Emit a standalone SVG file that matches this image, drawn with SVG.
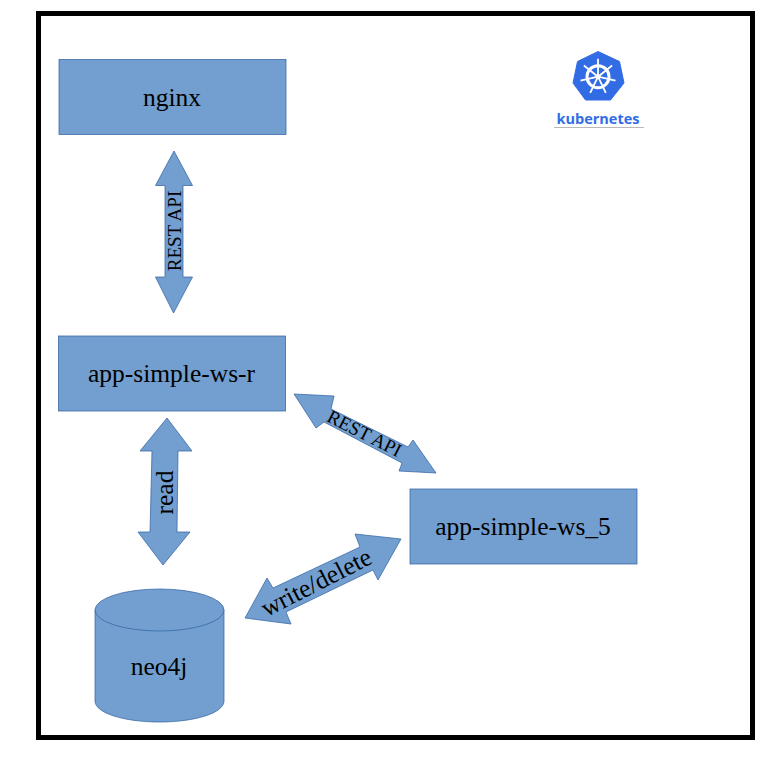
<svg xmlns="http://www.w3.org/2000/svg" width="781" height="757" viewBox="0 0 781 757">
<style>
.s{fill:#729fcf;stroke:#3465a4;stroke-width:.75}
.t{font-family:"Liberation Serif",serif;font-size:25.500px;fill:#000;text-anchor:middle}
.l{font-family:"Liberation Serif",serif;fill:#000;text-anchor:middle}
</style>
<rect width="781" height="757" fill="#fff"/>
<rect id="frame" x="38.500" y="13.500" width="714" height="724" fill="none" stroke="#000" stroke-width="5"/>
<g id="connectors">
<g id="conn-nginx-r"><path class="s" d="M174 151L192.500 185.500H183V277H192.500L173.500 313L155.500 277H165V185.500H155.500Z"/><text class="l" font-size="19" transform="translate(180.500,231) rotate(-90)">REST API</text></g>
<g id="conn-r-5"><path class="s" d="M294 394L334 396L331 409L408 447L413 440L436 473L399 471L402 463L324 422L316 428Z"/><text class="l" font-size="19" transform="translate(361.500,439) rotate(27)">REST API</text></g>
<g id="conn-read"><path class="s" d="M167 418L192 451H178L177 532H190L163 565L138 532H150L152 451H140Z"/><text class="l" font-size="25.500" transform="translate(173,492.500) rotate(-90)">read</text></g>
<g id="conn-write"><path class="s" d="M401 539L355 534L360 547L273 588L267 578L245 618L291 624L286 612L373 570L378 580Z"/><text class="l" font-size="25.500" transform="translate(320,590) rotate(-27)">write/delete</text></g>
</g>
<g id="nginx"><rect class="s" x="59" y="59.500" width="227" height="75"/><text class="t" x="172" y="106">nginx</text></g>
<g id="app-simple-ws-r"><rect class="s" x="58.500" y="336" width="227" height="75"/><text class="t" x="171.500" y="382">app-simple-ws-r</text></g>
<g id="app-simple-ws-5"><rect class="s" x="410" y="489" width="227" height="75"/><text class="t" x="523" y="535">app-simple-ws_5</text></g>
<g id="neo4j">
<path class="s" d="M95 610V701C95 713 124 722 159.500 722S224 713 224 701V610"/>
<ellipse class="s" cx="159.500" cy="610" rx="64.500" ry="21"/>
<text class="t" x="159" y="675">neo4j</text>
</g>
<g id="kubernetes">
<path d="M598 51.500L619.500 61.500L624 83L610.500 100H585.500L573 83L577.500 61.500Z" fill="#326ce5" stroke="#326ce5" stroke-linejoin="round" stroke-width="1"/>
<g fill="none" stroke="#fff">
<circle cx="598" cy="76.700" r="11" stroke-width="3"/>
<path stroke-width="1.800" d="M598 76.700V58.700M598 76.700L612.100 65.500M598 76.700L615.500 80.700M598 76.700L605.800 92.900M598 76.700L590.200 92.900M598 76.700L580.500 80.700M598 76.700L583.900 65.500"/>
</g>
<circle cx="598" cy="76.700" r="2.500" fill="#fff"/>
<text x="598" y="124" font-family="'Open Sans',sans-serif" font-size="14.500" font-weight="700" fill="#326ce5" text-anchor="middle">kubernetes</text>
<path d="M554 127.500H644" stroke="#b8b8b8" stroke-width="1"/>
</g>
</svg>
